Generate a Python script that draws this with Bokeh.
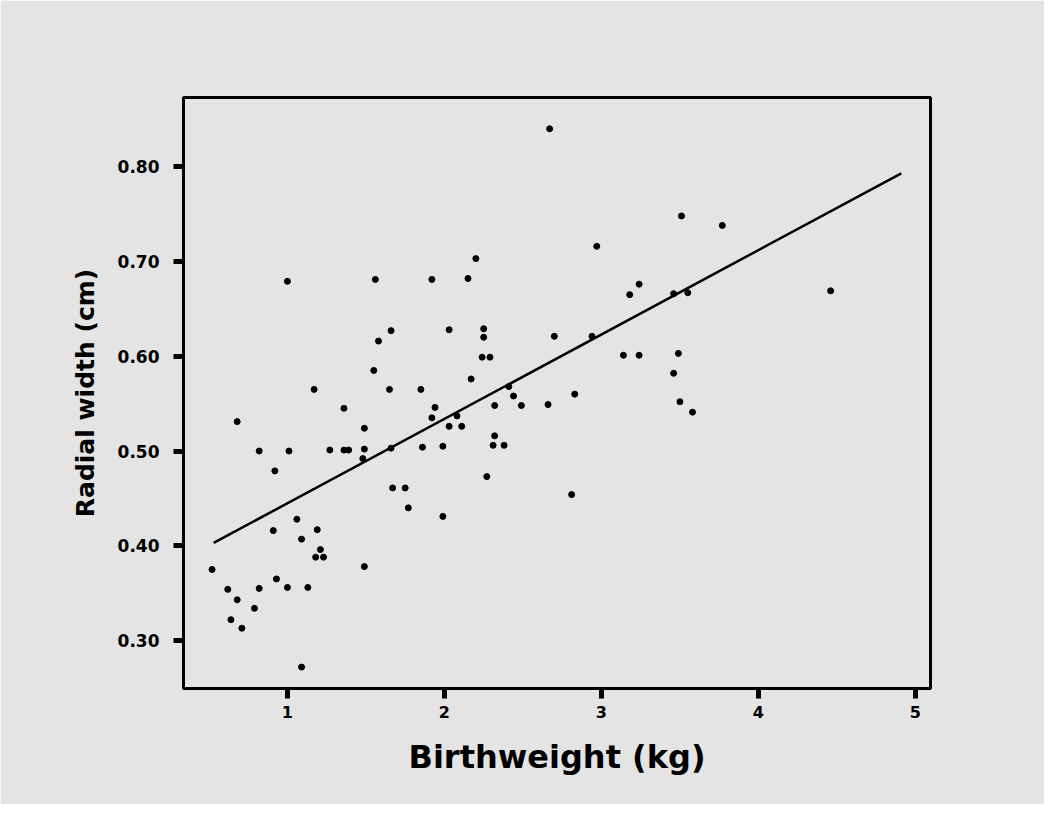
from bokeh.plotting import figure
from bokeh.models import Range1d, FixedTicker
from bokeh.embed import file_html
from bokeh.resources import INLINE

# Data
birthweight = [2.67, 1.00, 1.56, 1.92, 2.15, 2.20, 1.66, 1.58, 2.03, 2.25, 2.25, 2.24, 2.29,
               2.70, 1.55, 2.17, 1.17, 1.65, 1.85,
               3.51, 3.77, 2.97, 3.24, 3.18, 3.46, 3.55, 4.46, 2.94, 3.14, 3.24, 3.49, 3.46,
               0.68, 1.36, 1.49, 0.82, 1.01, 1.27, 1.36, 1.39, 1.49, 1.48, 1.66, 1.86, 1.99,
               0.92, 1.94, 1.92, 2.08, 2.03, 2.11, 2.32, 2.44, 2.49, 2.66, 2.41, 2.32, 2.31,
               2.38, 2.27, 1.67, 1.75, 1.77, 1.99, 1.06, 0.91, 1.19, 1.09, 1.21, 1.18, 1.23,
               0.52, 1.49, 0.93, 0.62, 0.82, 1.00, 1.13, 0.68, 0.79, 0.64, 0.71, 1.09,
               2.83, 3.50, 3.58, 2.81]
radial_width = [0.840, 0.679, 0.681, 0.681, 0.682, 0.703, 0.627, 0.616, 0.628, 0.629, 0.620, 0.599, 0.599,
                0.621, 0.585, 0.576, 0.565, 0.565, 0.565,
                0.748, 0.738, 0.716, 0.676, 0.665, 0.666, 0.667, 0.669, 0.621, 0.601, 0.601, 0.603, 0.582,
                0.531, 0.545, 0.524, 0.500, 0.500, 0.501, 0.501, 0.501, 0.502, 0.492, 0.503, 0.504, 0.505,
                0.479, 0.546, 0.535, 0.537, 0.526, 0.526, 0.548, 0.558, 0.548, 0.549, 0.568, 0.516, 0.506,
                0.506, 0.473, 0.461, 0.461, 0.440, 0.431, 0.428, 0.416, 0.417, 0.407, 0.396, 0.388, 0.388,
                0.375, 0.378, 0.365, 0.354, 0.355, 0.356, 0.356, 0.343, 0.334, 0.322, 0.313, 0.272,
                0.560, 0.552, 0.541, 0.454]

fit_x = [0.53, 4.91]
fit_y = [0.403, 0.793]

x_ticks = [1, 2, 3, 4, 5]
y_ticks = [0.30, 0.40, 0.50, 0.60, 0.70, 0.80]
y_tick_labels = ["0.30", "0.40", "0.50", "0.60", "0.70", "0.80"]

BG = "#e4e4e4"
FONT = "DejaVu Sans"

p = figure(width=1044, height=804, output_backend="svg", toolbar_location=None,
           x_range=Range1d(0.338, 5.096), y_range=Range1d(0.2494, 0.873),
           min_border_left=183, min_border_right=114, min_border_top=97, min_border_bottom=116)

p.background_fill_color = BG
p.border_fill_color = BG
p.outline_line_color = "black"
p.outline_line_width = 3
p.grid.visible = False

p.line(fit_x, fit_y, line_color="black", line_width=2.5)
p.scatter(birthweight, radial_width, marker="circle", size=6, fill_color="black", line_color="black")

for ax in (p.xaxis[0], p.yaxis[0]):
    ax.axis_line_width = 3
    ax.major_tick_line_width = 5
    ax.major_tick_out = 10
    ax.major_tick_in = 0
    ax.minor_tick_line_color = None
    ax.major_label_text_font = FONT
    ax.major_label_text_font_style = "bold"
    ax.major_label_text_color = "black"
    ax.axis_label_text_font = FONT
    ax.axis_label_text_font_style = "bold"
    ax.axis_label_text_color = "black"

p.xaxis.ticker = FixedTicker(ticks=x_ticks)
p.yaxis.ticker = FixedTicker(ticks=y_ticks)
p.yaxis.major_label_overrides = {t: l for t, l in zip(y_ticks, y_tick_labels)}

p.xaxis.major_label_text_font_size = "16px"
p.yaxis.major_label_text_font_size = "17px"

p.xaxis.axis_label = "Birthweight (kg)"
p.yaxis.axis_label = "Radial width (cm)"
p.xaxis.axis_label_text_font_size = "32px"
p.yaxis.axis_label_text_font_size = "25px"
p.xaxis.major_label_standoff = 7
p.yaxis.major_label_standoff = 14
p.xaxis.axis_label_standoff = 17
p.yaxis.axis_label_standoff = 15

open("out.html", "w").write(file_html(p, INLINE))
